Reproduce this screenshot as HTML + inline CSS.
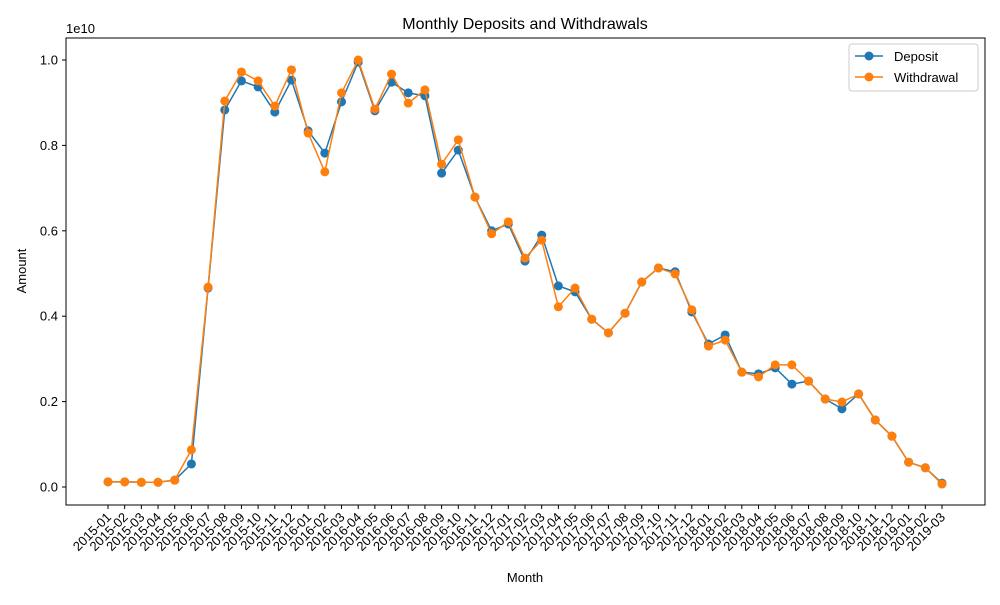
<!DOCTYPE html>
<html><head><meta charset="utf-8"><style>
body{margin:0;background:#fff}
svg{font-family:"Liberation Sans","DejaVu Sans",sans-serif}
</style></head><body>
<svg id="chart" width="1000" height="600" viewBox="0 0 1000 600">
<rect width="1000" height="600" fill="#fff"/>
<text x="525" y="29" font-size="16" text-anchor="middle">Monthly Deposits and Withdrawals</text>
<g id="axes"></g>
<g id="series"></g>
<rect x="66" y="38" width="919" height="467" fill="none" stroke="#000" stroke-width="1"/>
<text x="66" y="33" font-size="13">1e10</text>
<text x="525" y="582" font-size="13" text-anchor="middle">Month</text>
<text transform="translate(26,271) rotate(-90)" font-size="13" text-anchor="middle">Amount</text>
<g>
<rect x="849" y="44" width="129" height="47" fill="#fff" stroke="#ccc" rx="3"/>
<g>
<line x1="855" y1="56" x2="883" y2="56" stroke="#1f77b4" stroke-width="1.5"/><circle cx="869" cy="56" r="4.5" fill="#1f77b4"/>
<text x="894" y="61" font-size="13">Deposit</text></g>
<g>
<line x1="855" y1="77" x2="883" y2="77" stroke="#ff7f0e" stroke-width="1.5"/><circle cx="869" cy="77" r="4.5" fill="#ff7f0e"/>
<text x="894" y="82" font-size="13">Withdrawal</text></g>
</g>
</svg>
<script>
const deposit=[0.12,0.12,0.11,0.11,0.16,0.54,4.66,8.83,9.51,9.37,8.78,9.53,8.34,7.82,9.02,9.95,8.81,9.48,9.23,9.16,7.35,7.89,6.79,6.0,6.16,5.29,5.90,4.71,4.57,3.93,3.61,4.07,4.80,5.13,5.04,4.10,3.35,3.56,2.69,2.65,2.79,2.41,2.48,2.06,1.83,2.18,1.57,1.19,0.58,0.45,0.09];
const withdrawal=[0.12,0.12,0.11,0.11,0.16,0.87,4.68,9.04,9.72,9.51,8.92,9.77,8.29,7.38,9.23,10.0,8.85,9.67,8.99,9.30,7.56,8.13,6.79,5.93,6.21,5.36,5.78,4.22,4.66,3.93,3.61,4.07,4.80,5.13,4.99,4.15,3.30,3.44,2.69,2.58,2.86,2.86,2.48,2.06,1.99,2.18,1.57,1.19,0.58,0.45,0.07];
const yTicks=[0,0.2,0.4,0.6,0.8,1.0];
const months=[];
for(let y=2015;y<=2019;y++)for(let m=1;m<=12;m++){if(y===2019&&m>3)break;months.push(y+'-'+String(m).padStart(2,'0'));}
const NS='http://www.w3.org/2000/svg';
const xS=i=>108+i*(942-108)/(months.length-1);
const yS=v=>487-v*42.7;
function mk(t,a,p){const e=document.createElementNS(NS,t);for(const k in a)e.setAttribute(k,a[k]);p.appendChild(e);return e;}
const ax=document.getElementById('axes');
yTicks.forEach(t=>{const y=yS(t*10);
const l=mk('line',{x1:62,x2:66,y1:y,y2:y,stroke:'#000'},ax);


const tx=mk('text',{x:58,y:y+4.5,'font-size':13,'text-anchor':'end'},ax);tx.textContent=t.toFixed(1);

});
months.forEach((m,i)=>{const x=xS(i);
const l=mk('line',{x1:x,x2:x,y1:505,y2:509,stroke:'#000'},ax);


const tx=mk('text',{x:0,y:0,'font-size':13,'text-anchor':'end',transform:`translate(${x+4},${518}) rotate(-45)`},ax);tx.textContent=m;

});
const sg=document.getElementById('series');
[[deposit,'#1f77b4','deposit'],[withdrawal,'#ff7f0e','withdrawal']].forEach(([d,c,n])=>{
const g=mk('g',{},sg);


const pl=mk('polyline',{points:d.map((v,i)=>xS(i)+','+yS(v)).join(' '),fill:'none',stroke:c,'stroke-width':1.5},g);


d.forEach((v,i)=>{const p=mk('circle',{cx:xS(i),cy:yS(v),r:4.5,fill:c},g);

});});
</script>
</body></html>
